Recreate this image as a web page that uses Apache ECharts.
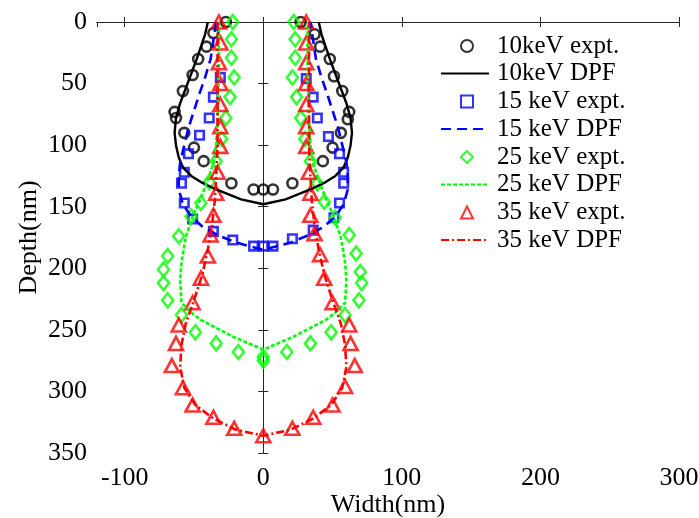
<!DOCTYPE html>
<html>
<head>
<meta charset="utf-8">
<script src="https://cdn.jsdelivr.net/npm/echarts@6/dist/echarts.min.js"></script>
<style>html,body{margin:0;padding:0;background:#fff;}#c{width:699px;height:518px;}</style>
</head>
<body>
<div id="c"></div>
<script>
// ---- data (width nm, depth nm) ----
const names = ['10keV expt.', '10keV DPF', '15 keV expt.', '15 keV DPF', '25 keV expt.', '25 keV DPF', '35 keV expt.', '35 keV DPF'];
const xTicks = [-100, 0, 100, 200, 300];
const yTicks = [0, 50, 100, 150, 200, 250, 300, 350];

const e10X = [-27,-36,-41,-47,-51,-58,-64,-63,-57,-50,-43,-23,-7,0,7,21,43,50,56,61,62,57,51,48,41,37,27];
const e10D = [0,9,20,30,43,56,73,78,90,102,113,131,136,136,136,131,113,102,90,79,73,56,44,30,20,10,0];
const d10X = [-40,-42,-45,-48,-52,-56,-60,-63,-64,-63,-61,-58,-52,-45,-34,-16,0,16,34,45,52,58,61,63,64,63,60,56,52,48,45,42,40];
const d10D = [0,10,20,30,42,54,66,78,90,100,110,118,125,130,136,144,148,144,136,130,125,118,110,100,90,78,66,54,42,30,20,10,0];

const e15X = [-31,-36,-39,-46,-54,-57,-59,-57,-51,-36,-22,-7,0,7,21,36,51,55,58,58,55,47,39,36,31];
const e15D = [45,61,78,92,107,122,131,147,160,170,177,182,182,182,176,169,159,147,131,122,107,93,78,61,46];
const d15X = [-34,-36,-38,-42,-46,-50,-54,-57,-60,-61,-61,-58,-52,-44,-33,-20,0,20,33,44,52,58,61,61,60,57,54,50,46,42,38,36,34];
const d15D = [0,15,30,45,58,72,86,100,114,126,136,148,158,166,173,179,185,179,173,166,158,148,136,126,114,100,86,72,58,45,30,15,0];

const e25X = [-22,-23,-23,-21,-24,-27,-30,-34,-39,-45,-52,-61,-69,-72,-72,-69,-59,-49,-34,-18,0,0,17,34,49,59,69,71,70,67,62,52,44,39,34,30,27,24,21,23,23,22];
const e25D = [0,14,29,45,61,78,95,113,130,147,158,174,190,201,212,226,238,252,261,268,272,275,268,261,252,238,226,212,203,188,173,159,146,131,113,95,78,61,45,29,14,0];
const d25X = [-32,-32,-33,-34,-36,-40,-45,-51,-56,-59,-60,-59,-52,-45,-33,-21,0,21,33,45,52,59,60,59,56,51,45,40,36,34,33,32,32];
const d25D = [0,40,80,100,115,128,143,158,175,195,210,228,236,242,249,256,266,256,249,242,236,228,210,195,175,158,143,128,115,100,80,40,0];

const e35X = [-32,-31,-32,-31,-31,-31,-31,-33,-34,-36,-38,-40,-45,-51,-61,-63,-66,-58,-51,-36,-21,0,21,36,50,59,66,63,62,50,44,41,37,34,34,33,31,31,31,31,31,31,31];
const e35D = [0,17,33,50,67,85,101,122,139,157,173,190,208,228,246,261,279,297,311,321,330,336,330,321,311,296,279,261,246,228,208,189,172,157,139,122,101,85,67,50,33,17,0];
const d35X = [-33,-33,-33,-34,-35,-37,-40,-44,-50,-56,-59,-60,-57,-49,-36,-20,0,20,36,49,57,60,59,56,50,44,40,37,35,34,33,33,33];
const d35D = [0,50,100,125,145,165,185,205,226,245,262,280,297,311,322,331,336,331,322,311,297,280,262,245,226,205,185,165,145,125,100,50,0];

const zip = (xs, ds) => xs.map((x, i) => [x, ds[i]]);
const FONT = '"Liberation Serif", "Times New Roman", serif';

const scatter = (name, xs, ds, symbol, size, color) => ({
  name, type: 'scatter', data: zip(xs, ds), symbol, symbolSize: size,
  itemStyle: { color: 'rgba(0,0,0,0)', borderColor: color, borderWidth: 2.6 },
  emphasis: { disabled: true }, animation: false
});
const line = (name, xs, ds, color, type, width) => ({
  name, type: 'line', data: zip(xs, ds), symbol: 'none', showSymbol: false,
  lineStyle: { color, type, width }, itemStyle: { color },
  emphasis: { disabled: true }, animation: false
});

const series = [
  scatter(names[0], e10X, e10D, 'circle', 10, '#000000'),
  line(names[1], d10X, d10D, '#000000', 'solid', 2.4),
  scatter(names[2], e15X, e15D, 'rect', 8.5, '#0000ff'),
  line(names[3], d15X, d15D, '#0000ff', [10, 6], 2.6),
  scatter(names[4], e25X, e25D, 'diamond', [11, 14], '#00ff00'),
  line(names[5], d25X, d25D, '#00ff00', [4, 2], 2.6),
  scatter(names[6], e35X, e35D, 'triangle', [14, 13], '#ff0000'),
  line(names[7], d35X, d35D, '#ff0000', [8, 3, 2, 3], 2.6)
];

const rowCenters = [46, 73.5, 101.5, 129, 157, 184.5, 212.5, 240];
const legends = names.map((n, i) => {
  const isScatter = i % 2 === 0;
  const lg = {
    data: [n], orient: 'vertical', padding: 0, selectedMode: false,
    left: isScatter ? 460 : 440, top: rowCenters[i] - 13,
    itemWidth: isScatter ? 12 : 48, itemHeight: isScatter ? 12 : 14,
    textStyle: { fontFamily: FONT, fontSize: 25, color: '#000', lineHeight: 26,
                 padding: [0, 0, 0, isScatter ? 19 : 3] }
  };
  if (!isScatter) {
    lg.itemStyle = { color: 'rgba(0,0,0,0)', borderColor: 'rgba(0,0,0,0)', borderWidth: 0 };
  }
  return lg;
});

const axisCommon = {
  axisLine: { show: true, lineStyle: { color: '#262626', width: 1 } },
  axisTick: { show: true, inside: true, length: 5, lineStyle: { color: '#262626' } },
  splitLine: { show: false }
};
const labelStyle = { fontFamily: FONT, fontSize: 26, color: '#000' };
const xFmt = v => (xTicks.indexOf(v) >= 0 ? String(v) : '');

const option = {
  backgroundColor: '#ffffff',
  animation: false,
  textStyle: { fontFamily: FONT },
  grid: { left: 97, right: 20, top: 22, bottom: 65, containLabel: false, outerBoundsMode: 'none' },
  legend: legends,
  xAxis: [
    Object.assign({ type: 'value', min: -120, max: 300, splitNumber: 4, position: 'bottom',
      name: 'Width(nm)', nameLocation: 'middle', nameGap: 39, nameMoveOverlap: false,
      nameTextStyle: labelStyle,
      axisLabel: Object.assign({ margin: 12, formatter: xFmt, showMinLabel: false }, labelStyle) }, axisCommon),
    Object.assign({ type: 'value', min: -120, max: 300, splitNumber: 4, position: 'top',
      axisLabel: { show: false } }, axisCommon)
  ],
  yAxis: [
    Object.assign({ type: 'value', inverse: true, min: 0, max: 350, interval: 50, position: 'left',
      name: 'Depth(nm)', nameLocation: 'middle', nameGap: 55, nameMoveOverlap: false,
      nameTextStyle: labelStyle,
      axisLabel: Object.assign({ margin: 10, formatter: v => (yTicks.indexOf(v) >= 0 ? String(v) : '') }, labelStyle) }, axisCommon),
    Object.assign({ type: 'value', inverse: true, min: 0, max: 350, interval: 50, position: 'right',
      axisLabel: { show: false } }, axisCommon)
  ],
  series
};

const chart = echarts.init(document.getElementById('c'), null, { renderer: 'canvas' });
chart.setOption(option);
</script>
</body>
</html>
